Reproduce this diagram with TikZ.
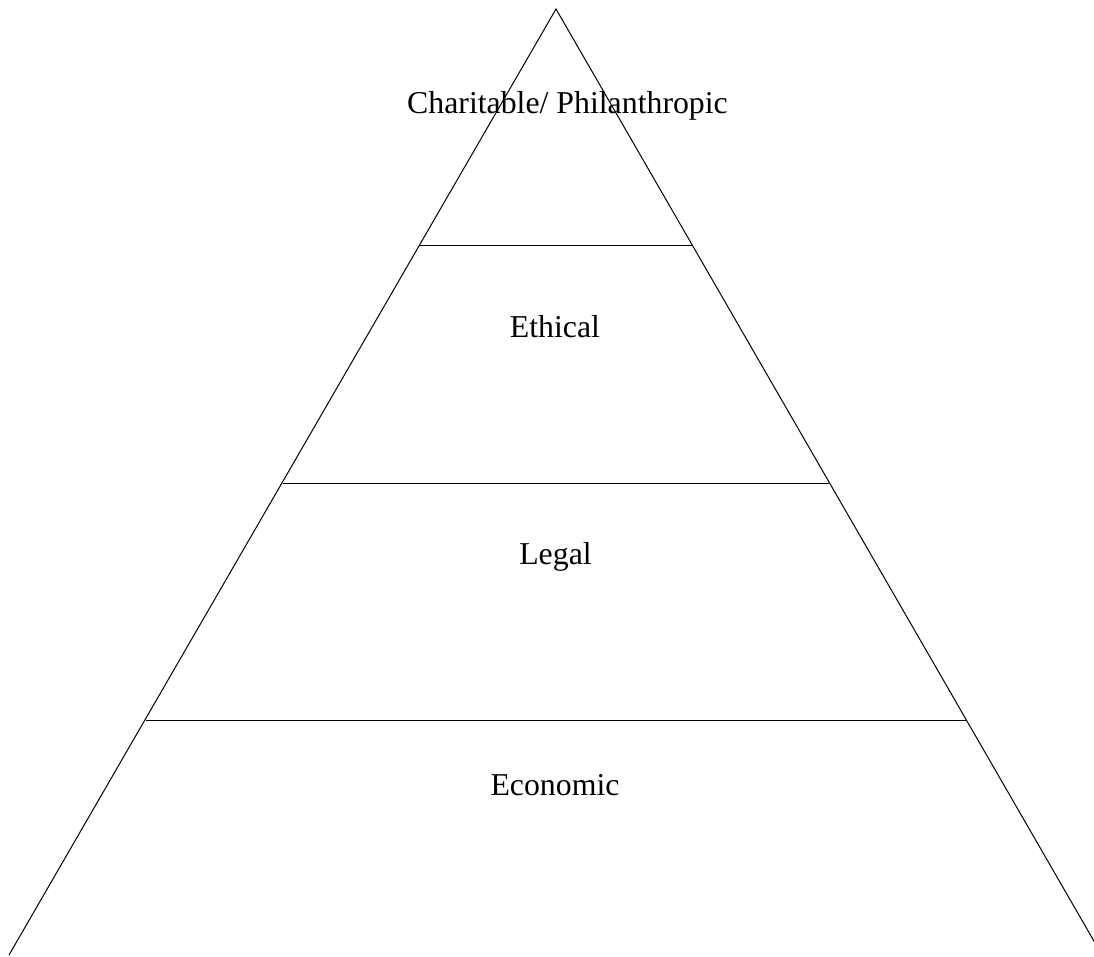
\documentclass[tikz,border=0pt]{standalone}
\usepackage{fontspec}
\setmainfont{Liberation Serif}
\begin{document}
\begin{tikzpicture}[x=1pt,y=-1pt,line width=1pt,
  lbl/.style={anchor=base,inner sep=0pt,font=\fontsize{31.8}{36}\selectfont}]
\useasboundingbox (0,0) rectangle (1094,956);
\begin{scope}
\clip (0,0) rectangle (1094,956);
\coordinate (apex) at (556,9);
\coordinate (bl) at (9,955);
\coordinate (br) at (1102,955);
\draw (bl) -- (apex) -- (br);
\coordinate (l1) at (420,245); \coordinate (r1) at (692,245);
\coordinate (l2) at (283,483); \coordinate (r2) at (829,483);
\coordinate (l3) at (146,720); \coordinate (r3) at (966,720);
\draw (l1) -- (r1);
\draw (l2) -- (r2);
\draw (l3) -- (r3);
\end{scope}
\node[lbl] (t1) at (567.5,113) {Charitable/ Philanthropic};
\node[lbl] (t2) at (555,337) {Ethical};
\node[lbl] (t3) at (555.5,564) {Legal};
\node[lbl] (t4) at (555,795.5) {Economic};
\end{tikzpicture}
\end{document}
